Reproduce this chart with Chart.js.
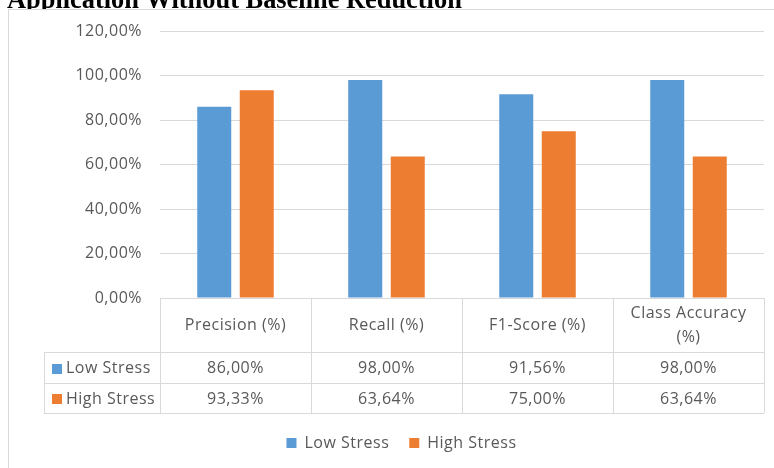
<!DOCTYPE html>
<html>
<head>
<meta charset="utf-8">
<script src="https://cdn.jsdelivr.net/npm/chart.js@4/dist/chart.umd.min.js"></script>
<style>
  html, body { margin: 0; padding: 0; background: #fff; }
  #wrap { width: 774px; height: 468px; }
</style>
</head>
<body>
<div id="wrap"><canvas id="c" width="774" height="468"></canvas></div>
<script>
// Metrics shown as columns, one value per metric for each stress class
const categories = ['Precision (%)', 'Recall (%)', 'F1-Score (%)', 'Class Accuracy (%)'];
const lowStress = [86.00, 98.00, 91.56, 98.00];
const highStress = [93.33, 63.64, 75.00, 63.64];
const seriesNames = ['Low Stress', 'High Stress'];
const yMin = 0, yMax = 120, yStep = 20;
const titleText = 'Application Without Baseline Reduction';

const FONT = '"Open Sans", sans-serif';
const FONT_SIZE = 16;
const SPACING = '0.5px';
const TEXT = '#595959';
const LINE = '#d9d9d9';
const BLUE = '#5B9BD5';
const ORANGE = '#ED7D31';

const fmt = v => Number(v).toFixed(2).replace('.', ',') + '%';

// Slightly wider text tracking for all chart labels
const spacingPlugin = {
  id: 'spacing',
  beforeLayout(chart) { chart.ctx.letterSpacing = SPACING; },
  beforeDraw(chart) { chart.ctx.letterSpacing = SPACING; }
};

// Title line above the chart frame plus the frame itself
const framePlugin = {
  id: 'frame',
  beforeDraw(chart) {
    const ctx = chart.ctx;
    ctx.save();
    ctx.letterSpacing = '0px';
    ctx.fillStyle = '#fff';
    ctx.fillRect(0, 0, chart.width, chart.height);
    ctx.font = 'bold 26.4px "Liberation Serif", serif';
    ctx.fillStyle = '#000';
    ctx.textBaseline = 'alphabetic';
    ctx.textAlign = 'left';
    ctx.fillText(titleText, 7, 8);
    ctx.fillStyle = '#fff';
    ctx.fillRect(0, 9, chart.width, chart.height);
    ctx.strokeStyle = LINE;
    ctx.lineWidth = 1;
    ctx.beginPath();
    ctx.moveTo(8.5, chart.height);
    ctx.lineTo(8.5, 9.5);
    ctx.lineTo(chart.width, 9.5);
    ctx.stroke();
    ctx.restore();
  }
};

// Data table under the plot, aligned to the category columns
const tablePlugin = {
  id: 'dataTable',
  afterDraw(chart) {
    const { ctx, chartArea, scales: { x } } = chart;
    const top = Math.round(chartArea.bottom);
    const headH = 54, rowH = 30.5;
    const colW = x.getPixelForValue(1) - x.getPixelForValue(0);
    const left = chartArea.left, right = chartArea.right;
    const labelLeft = left - 116;
    const rows = [top + headH, top + headH + rowH, top + headH + 2 * rowH].map(Math.round);

    ctx.save();
    ctx.strokeStyle = LINE;
    ctx.lineWidth = 1;
    ctx.beginPath();
    rows.forEach(y => { ctx.moveTo(labelLeft, y + 0.5); ctx.lineTo(right, y + 0.5); });
    for (let i = 0; i <= categories.length; i++) {
      const xx = Math.round(left + i * colW) + 0.5;
      ctx.moveTo(xx, top);
      ctx.lineTo(xx, rows[2]);
    }
    ctx.moveTo(labelLeft + 0.5, rows[0]);
    ctx.lineTo(labelLeft + 0.5, rows[2] + 0.5);
    ctx.stroke();

    ctx.letterSpacing = SPACING;
    ctx.font = FONT_SIZE + 'px ' + FONT;
    ctx.fillStyle = TEXT;
    ctx.textAlign = 'center';
    ctx.textBaseline = 'middle';

    // header cells, wrapped when wider than the column
    categories.forEach((cat, i) => {
      const cx = x.getPixelForValue(i);
      const cy = (top + rows[0]) / 2;
      if (ctx.measureText(cat).width > colW - 24) {
        const words = cat.split(' ');
        const l2 = words.pop();
        const l1 = words.join(' ');
        ctx.fillText(l1, cx, cy - 12);
        ctx.fillText(l2, cx, cy + 12);
      } else {
        ctx.fillText(cat, cx, cy);
      }
    });

    const series = [lowStress, highStress];
    const colors = [BLUE, ORANGE];
    series.forEach((vals, r) => {
      const cy = (rows[r] + rows[r + 1]) / 2 + 1;
      vals.forEach((v, i) => {
        ctx.fillStyle = TEXT;
        ctx.textAlign = 'center';
        ctx.fillText(fmt(v), x.getPixelForValue(i), cy);
      });
      ctx.fillStyle = colors[r];
      ctx.fillRect(labelLeft + 8, Math.round(cy - 5), 10, 10);
      ctx.fillStyle = TEXT;
      ctx.textAlign = 'left';
      ctx.fillText(seriesNames[r], labelLeft + 22, cy);
    });
    ctx.restore();
  }
};

new Chart(document.getElementById('c'), {
  type: 'bar',
  data: {
    labels: categories,
    datasets: [
      { label: seriesNames[0], data: lowStress, backgroundColor: BLUE, barPercentage: 0.8, categoryPercentage: 0.563 },
      { label: seriesNames[1], data: highStress, backgroundColor: ORANGE, barPercentage: 0.8, categoryPercentage: 0.563 }
    ]
  },
  options: {
    responsive: false,
    animation: false,
    devicePixelRatio: 1,
    layout: { padding: { left: 39, right: 10, top: 31, bottom: 7 } },
    plugins: {
      legend: {
        position: 'bottom',
        labels: { boxWidth: 10, boxHeight: 10, padding: 20, color: TEXT, font: { family: FONT, size: FONT_SIZE } }
      },
      tooltip: { enabled: false },
      title: { display: false }
    },
    scales: {
      x: {
        grid: { display: false },
        border: { display: false },
        ticks: { display: false },
        afterFit(s) { s.height = 117; }
      },
      y: {
        min: yMin, max: yMax,
        ticks: { stepSize: yStep, padding: 18, color: TEXT, font: { family: FONT, size: FONT_SIZE }, callback: v => fmt(v) },
        grid: { color: LINE, drawTicks: false },
        border: { display: false },
        afterFit(s) { s.width = 121; }
      }
    }
  },
  plugins: [spacingPlugin, framePlugin, tablePlugin]
});
</script>
</body>
</html>
